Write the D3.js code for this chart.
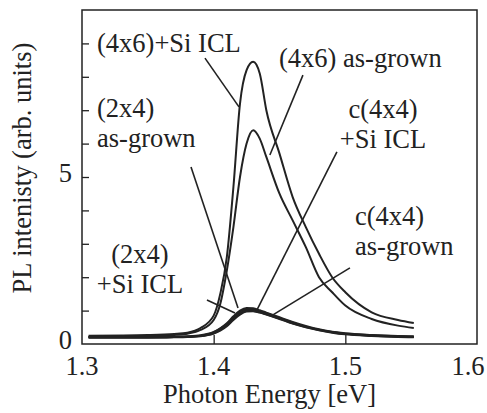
<!DOCTYPE html>
<html>
<head>
    <meta charset="utf-8">
    <title>PL spectra</title>
    <style>
        body { margin: 0; background: white; }
        svg { display: block; }
        svg text { font-family: "Liberation Serif", "DejaVu Serif", "Times New Roman", serif; }
    </style>
</head>
<body>
    <script src="https://cdnjs.cloudflare.com/ajax/libs/d3/7.8.5/d3.min.js"></script>
    <script>

// photon energy grid (eV) and PL intensity
var energy      = [1.305, 1.35, 1.37, 1.38, 1.39, 1.40, 1.405, 1.41, 1.415, 1.42, 1.425, 1.43, 1.435, 1.44, 1.45, 1.46, 1.47, 1.48, 1.49, 1.50, 1.52, 1.54, 1.552];
var siICL4x6    = [0.25, 0.27, 0.30, 0.34, 0.48, 0.85, 1.50, 2.60, 4.70, 7.20, 8.20, 8.45, 8.10, 7.00, 5.70, 4.40, 3.50, 2.70, 2.00, 1.55, 0.95, 0.72, 0.63];
var asGrown4x6  = [0.22, 0.24, 0.27, 0.31, 0.42, 0.72, 1.20, 2.20, 3.50, 5.00, 6.00, 6.40, 6.15, 5.60, 4.50, 3.70, 2.90, 2.00, 1.55, 1.15, 0.75, 0.55, 0.48];
var asGrown2x4  = [0.20, 0.20, 0.21, 0.22, 0.25, 0.35, 0.46, 0.60, 0.80, 0.97, 1.05, 1.03, 0.98, 0.92, 0.78, 0.64, 0.52, 0.43, 0.36, 0.31, 0.26, 0.23, 0.22];
var siICL2x4    = [0.20, 0.20, 0.21, 0.22, 0.24, 0.32, 0.42, 0.56, 0.75, 0.92, 1.00, 0.99, 0.95, 0.89, 0.76, 0.62, 0.51, 0.42, 0.35, 0.30, 0.25, 0.22, 0.21];
var siICLc4x4   = [0.21, 0.21, 0.22, 0.23, 0.26, 0.36, 0.47, 0.62, 0.83, 1.00, 1.08, 1.07, 1.01, 0.94, 0.80, 0.66, 0.54, 0.44, 0.37, 0.32, 0.27, 0.24, 0.23];
var asGrownc4x4 = [0.19, 0.19, 0.20, 0.21, 0.23, 0.31, 0.40, 0.53, 0.72, 0.88, 0.97, 0.98, 0.94, 0.88, 0.75, 0.61, 0.50, 0.41, 0.34, 0.29, 0.24, 0.21, 0.20];

var xTickLabels = [1.3, 1.4, 1.5, 1.6];
var yTickLabels = [0, 5];

// labels: text lines, and leader line ends [E1, I1, E2, I2]
var labelLines = [
    ["(4x6)+Si ICL"],
    ["(2x4)", "as-grown"],
    ["(4x6) as-grown"],
    ["c(4x4)", "+Si ICL"],
    ["c(4x4)", "as-grown"],
    ["(2x4)", "+Si ICL"]
];
var leaders = [
    [1.3934, 8.56, 1.4192, 7.10],
    [1.3828, 5.30, 1.4185, 1.08],
    [1.4678, 8.05, 1.4427, 5.66],
    [1.4936, 5.75, 1.4329, 1.02],
    [1.5035, 2.28, 1.4450, 0.87],
    [1.3949, 1.32, 1.4162, 0.93]
];

var config = {
    width: 487,
    height: 413,
    margin: { top: 10, right: 10, bottom: 69, left: 82 },
    fontSize: 26.5,
    ink: "#222"
};

var series = [siICL4x6, asGrown4x6, asGrown2x4, siICL2x4, siICLc4x4, asGrownc4x4];

// where each label block sits (x, first baseline), in pixels of the plot area
var labelPos = [
    { x: 15, y: 42, anchor: "start" },
    { x: 15, y: 107, anchor: "start" },
    { x: 197, y: 57, anchor: "start" },
    { x: 301, y: 108, anchor: "middle" },
    { x: 273, y: 215, anchor: "start" },
    { x: 58, y: 253, anchor: "middle" }
];

function draw() {
    var m = config.margin;
    var innerW = config.width - m.left - m.right;
    var innerH = config.height - m.top - m.bottom;

    var svg = d3.select("body").append("svg")
        .attr("width", config.width)
        .attr("height", config.height);

    var g = svg.append("g")
        .attr("transform", "translate(" + m.left + "," + m.top + ")");

    var x = d3.scaleLinear().domain([1.3, 1.6]).range([0, innerW]);
    var y = d3.scaleLinear().domain([0, 10]).range([innerH, 0]);

    // inner ticks
    g.append("g")
        .call(d3.axisLeft(y).tickValues(d3.range(1, 10)).tickSize(-7).tickFormat(""))
        .call(function (a) { a.select(".domain").remove(); })
        .selectAll("line").attr("stroke", config.ink).attr("stroke-width", 1.3);

    g.append("g")
        .attr("transform", "translate(0," + innerH + ")")
        .call(d3.axisBottom(x).tickValues([1.4, 1.5]).tickSize(-9).tickFormat(""))
        .call(function (a) { a.select(".domain").remove(); })
        .selectAll("line").attr("stroke", config.ink).attr("stroke-width", 1.3);

    // frame
    g.append("rect")
        .attr("width", innerW)
        .attr("height", innerH)
        .attr("fill", "none")
        .attr("stroke", config.ink)
        .attr("stroke-width", 1.5);

    // tick labels
    g.selectAll(".xl").data(xTickLabels).enter().append("text")
        .attr("class", "xl")
        .attr("x", function (d, i) { return x(d) - (i === xTickLabels.length - 1 ? 9 : 0); })
        .attr("y", innerH + 31)
        .attr("text-anchor", "middle")
        .attr("font-size", config.fontSize)
        .attr("fill", config.ink)
        .text(function (d) { return d.toFixed(1); });

    g.selectAll(".yl").data(yTickLabels).enter().append("text")
        .attr("class", "yl")
        .attr("x", -10)
        .attr("y", function (d) { return y(d) - 4; })
        .attr("dy", "0.33em")
        .attr("text-anchor", "end")
        .attr("font-size", config.fontSize)
        .attr("fill", config.ink)
        .text(function (d) { return d; });

    // axis titles
    svg.append("text")
        .attr("x", m.left + innerW / 2 - 10)
        .attr("y", 403)
        .attr("text-anchor", "middle")
        .attr("font-size", config.fontSize)
        .attr("fill", config.ink)
        .text("Photon Energy [eV]");

    svg.append("text")
        .attr("transform", "translate(31," + 168 + ") rotate(-90)")
        .attr("text-anchor", "middle")
        .attr("font-size", config.fontSize)
        .attr("fill", config.ink)
        .text("PL intenisty (arb. units)");

    // spectra
    var line = d3.line()
        .x(function (d) { return x(d[0]); })
        .y(function (d) { return y(d[1]); })
        .curve(d3.curveMonotoneX);

    g.selectAll(".spec").data(series).enter().append("path")
        .attr("class", "spec")
        .attr("d", function (s) { return line(energy.map(function (e, i) { return [e, s[i]]; })); })
        .attr("fill", "none")
        .attr("stroke", config.ink)
        .attr("stroke-width", 2);

    // leader lines
    g.selectAll(".lead").data(leaders).enter().append("line")
        .attr("class", "lead")
        .attr("x1", function (d) { return x(d[0]); })
        .attr("y1", function (d) { return y(d[1]); })
        .attr("x2", function (d) { return x(d[2]); })
        .attr("y2", function (d) { return y(d[3]); })
        .attr("stroke", config.ink)
        .attr("stroke-width", 1.6);

    // labels
    labelLines.forEach(function (lines, i) {
        var p = labelPos[i];
        var t = g.append("text")
            .attr("font-size", config.fontSize)
            .attr("fill", config.ink)
            .attr("text-anchor", p.anchor);
        lines.forEach(function (s, j) {
            t.append("tspan")
                .attr("x", p.x)
                .attr("y", p.y + j * 30)
                .text(s);
        });
    });
}

draw();
    </script>
</body>
</html>
